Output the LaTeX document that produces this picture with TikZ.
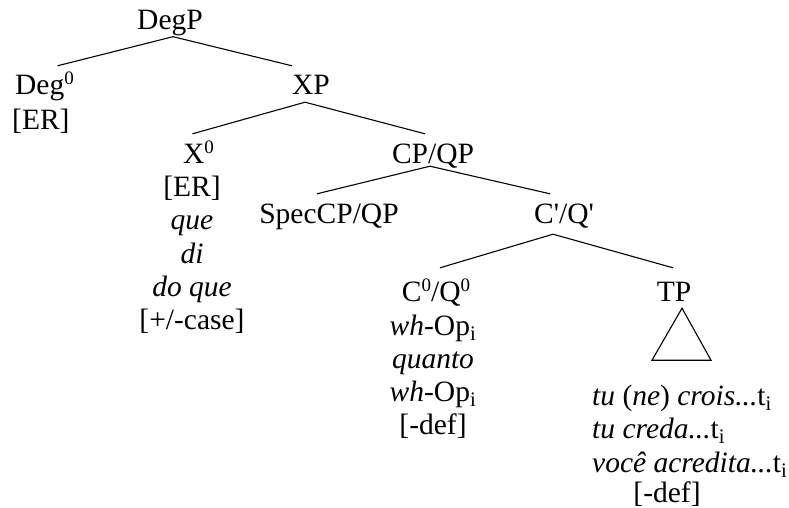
\documentclass[tikz,border=0pt]{standalone}
\usepackage{fontspec}
\setmainfont{Liberation Serif}
\usetikzlibrary{positioning}

\newcommand\zsup[1]{\raisebox{10pt}{\fontsize{19pt}{19pt}\selectfont #1}}

\tikzset{
  cat/.style={anchor=base, inner sep=0pt, text height=29pt, text depth=7pt},
  lex/.style={anchor=base, inner sep=0pt},
  under/.style={below=33.3pt of #1, anchor=base, inner sep=0pt},
  branch/.style={line width=1.1pt}
}

\begin{document}
\begin{tikzpicture}[x=1pt, y=1pt, font=\fontsize{29.5pt}{33.3pt}\selectfont]
\useasboundingbox (0,0) rectangle (789,-508);
% categories
\node[cat] (DegP) at (170,-29.5) {DegP};
\node[cat, anchor=base west] (Deg) at (15,-95) {Deg\zsup{0}};
\node[cat] (XP) at (311,-95) {XP};
\node[cat] (X) at (198.5,-163) {X\zsup{0}};
\node[cat] (CP) at (433,-163) {CP/QP};
\node[cat] (Spec) at (329,-223) {SpecCP/QP};
\node[cat] (Cbar) at (564,-223) {C\textquotesingle/Q\textquotesingle};
\node[cat] (C) at (436,-301) {C\zsup{0}/Q\zsup{0}};
\node[cat] (TP) at (674,-301) {TP};
% Deg0
\node[lex, anchor=base west] (DegER) at (12,-129) {[ER]};
% X0
\node[lex] (XER) at (192,-196.5) {[ER]};
\node[under=XER.base] (que) {\textit{que}};
\node[under=que.base] (di) {\textit{di}};
\node[under=di.base] (doque) {\textit{do que}};
\node[under=doque.base] (case) {[+/-case]};
% C0/Q0
\node[lex] (op1) at (433,-335) {\textit{wh}-Op\textsubscript{i}};
\node[under=op1.base] (quanto) {\textit{quanto}};
\node[under=quanto.base] (op2) {\textit{wh}-Op\textsubscript{i}};
\node[under=op2.base] (Cdef) {[-def]};
% TP
\node[lex, anchor=base west] (crois) at (592,-405.5) {\textit{tu} (\textit{ne}) \textit{crois...}t\textsubscript{i}};
\node[under=crois.base west, anchor=base west] (creda) {\textit{tu creda...}t\textsubscript{i}};
\node[under=creda.base west, anchor=base west] (acredita) {\textit{você acredita...}t\textsubscript{i}};
\node[lex] (TPdef) at (667,-502) {[-def]};
% branches
\draw[branch] ([xshift=3pt]DegP.south) -- ([xshift=13pt]Deg.north);
\draw[branch] ([xshift=3pt]DegP.south) -- ([xshift=-19pt]XP.north);
\draw[branch] ([xshift=-6pt]XP.south) -- ([xshift=-6pt]X.north);
\draw[branch] ([xshift=-6pt]XP.south) -- ([xshift=-8pt]CP.north);
\draw[branch] ([xshift=-3pt,yshift=4pt]CP.south) -- ([xshift=-12pt]Spec.north);
\draw[branch] ([xshift=-3pt,yshift=4pt]CP.south) -- ([xshift=-14pt]Cbar.north);
\draw[branch] ([xshift=-11pt,yshift=-4pt]Cbar.south) -- ([xshift=4pt,yshift=4pt]C.north);
\draw[branch] ([xshift=-11pt,yshift=-4pt]Cbar.south) -- ([xshift=-1pt,yshift=4pt]TP.north);
\draw[branch] ([xshift=8pt]TP.south) -- ++(-30,-52) -- ++(59,0) -- cycle;
\end{tikzpicture}
\end{document}
